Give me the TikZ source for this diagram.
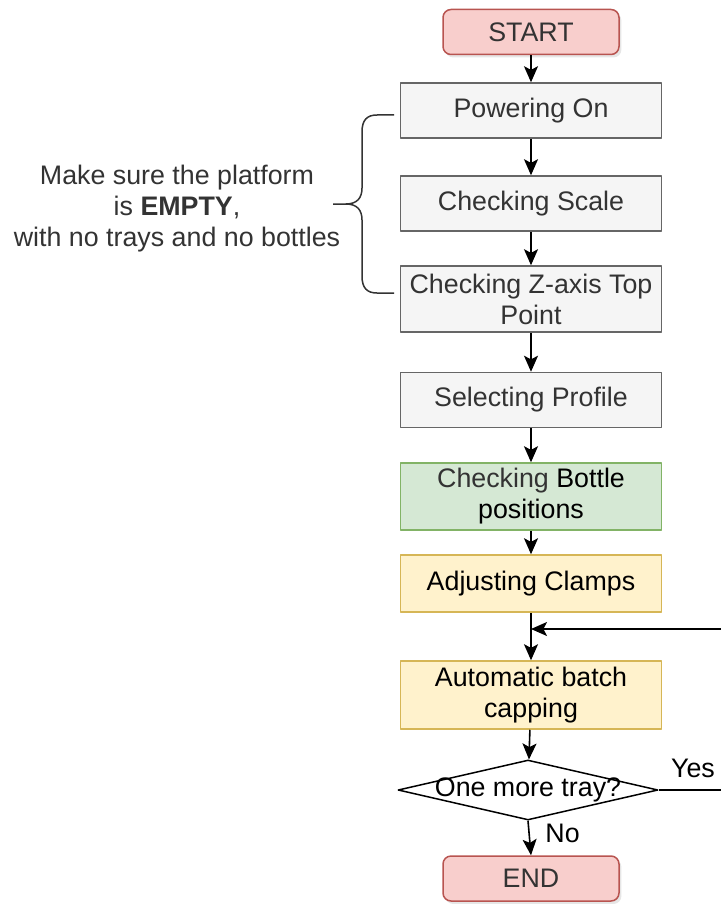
\documentclass[tikz,border=0pt]{standalone}
\usepackage{fontspec}
\setmainfont{Liberation Sans}
\usepackage{xcolor}
\usetikzlibrary{arrows.meta,shapes.geometric,shadows}
\definecolor{grayfill}{HTML}{F5F5F5}
\definecolor{grayline}{HTML}{666666}
\definecolor{graytext}{HTML}{333333}
\definecolor{redfill}{HTML}{F8CECC}
\definecolor{redline}{HTML}{B85450}
\definecolor{greenfill}{HTML}{D5E8D4}
\definecolor{greenline}{HTML}{82B366}
\definecolor{yellowfill}{HTML}{FFF2CC}
\definecolor{yellowline}{HTML}{D6B656}
\begin{document}
\begin{tikzpicture}[x=0.5pt,y=-0.5pt,>={Stealth[length=8pt,width=7pt,inset=1.8pt]},line join=round,
  every node/.style={font=\fontsize{13.4}{15.5}\selectfont},
  stage/.style={rectangle,draw=grayline,fill=grayfill,text=graytext,line width=0.75pt,
    minimum width=130.5pt,minimum height=27.5pt,inner sep=0pt,align=center},
  term/.style={stage,rounded corners=4pt,draw=redline,fill=redfill,minimum width=88pt,
    minimum height=22.5pt,drop shadow={shadow xshift=1.2pt,shadow yshift=-1.5pt,opacity=0.2}},
  flow/.style={->,line width=0.8pt}]
  \useasboundingbox (0,0) rectangle (720,904);
  \node[term] (START) at (531,32) {START};
  \node[stage] (PWR) at (531,110.5) {Powering On};
  \node[stage] (SCL) at (531,203.5) {Checking Scale};
  \node[stage,minimum height=33pt] (ZTP) at (531,299) {Checking Z-axis Top\\Point};
  \node[stage] (PRF) at (531,400) {Selecting Profile};
  \node[stage,minimum height=33.5pt,draw=greenline,fill=greenfill,text=black] (BTL) at (531,496.5)
    {\textcolor{graytext}{Checking} Bottle\\positions};
  \node[stage,minimum height=28.5pt,draw=yellowline,fill=yellowfill,text=black] (CLP) at (531,583.5) {Adjusting Clamps};
  \node[stage,minimum height=34pt,draw=yellowline,fill=yellowfill,text=black] (CAP) at (531,695) {Automatic batch\\capping};
  \node[diamond,draw=black,fill=white,line width=0.75pt,aspect=4.33,inner sep=0pt,
    minimum width=130pt,minimum height=30pt] (TRY) at (528,790) {\makebox[0pt]{One more tray?}};
  \node[term] (END) at (531,878.5) {END};
  \coordinate (BACK) at (531,629);
  \coordinate (YESR) at (726,790);
  \draw[flow] (START) -- (PWR);
  \draw[flow] (PWR) -- (SCL);
  \draw[flow] (SCL) -- (ZTP);
  \draw[flow] (ZTP) -- (PRF);
  \draw[flow] (PRF) -- (BTL);
  \draw[flow] (BTL) -- (CLP);
  \draw[flow] (CLP) -- (CAP);
  \draw[flow] (CAP) -- (TRY);
  \draw[flow] (TRY.south) -- (END.north);
  \draw[flow] (TRY.east) -- (YESR) |- (BACK);
  \node[anchor=base] (YES) at (693,777) {Yes};
  \node[anchor=base west,inner sep=0pt] (NO) at (545,842) {No};
  \draw[graytext,line width=0.75pt] (394,115) -- (377,115) .. controls (367,115) and (362,120) .. (362,132)
    -- (362,188) .. controls (362,198) and (357,204) .. (346,204) -- (333,204);
  \draw[graytext,line width=0.75pt] (346,204) .. controls (357,204) and (362,210) .. (362,220)
    -- (362,276) .. controls (362,288) and (367,293) .. (377,293) -- (394,293);
  \node[align=center,text=graytext] (NOTE) at (177,208.5)
    {Make sure the platform\\is \textbf{EMPTY},\\with no trays and no bottles};
\end{tikzpicture}
\end{document}
